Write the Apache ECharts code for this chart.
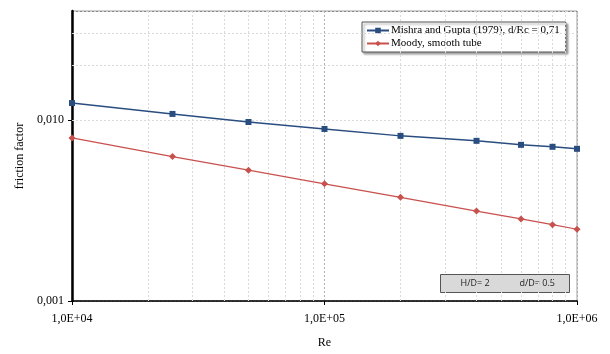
<!DOCTYPE html>
<html><head><meta charset="utf-8">
<script src="https://cdn.jsdelivr.net/npm/echarts@6/dist/echarts.min.js"></script>
<style>html,body{margin:0;padding:0;background:#fff}#c{width:610px;height:354px}</style>
</head><body><div id="c"></div>
<script>
const reynolds = [10000, 25000, 50000, 100000, 200000, 400000, 600000, 800000, 1000000];
const mishraGupta = [0.0124, 0.0108, 0.00975, 0.00892, 0.00817, 0.00767, 0.00729, 0.00711, 0.00693];
const moodySmooth = [0.00796, 0.00628, 0.00528, 0.00444, 0.00374, 0.00314, 0.00284, 0.00264, 0.00249];
const seriesNames = ['Mishra and Gupta (1979), d/Rc = 0,71', 'Moody, smooth tube'];
const xMinorGrid = [20000,30000,40000,50000,60000,70000,80000,90000,200000,300000,400000,500000,600000,700000,800000,900000];
const yMinorGrid = [0.002,0.003,0.004,0.005,0.006,0.007,0.008,0.009,0.02,0.03];
const annotation = ['H/D= 2', 'd/D= 0.5'];

const serif = '"Liberation Serif", "DejaVu Serif", serif';
const chart = echarts.init(document.getElementById('c'));
const gridLine = {type: [2, 2], color: '#dadada', width: 1};
const fmtY = v => {
  const l = Math.log10(v);
  if (Math.abs(l - Math.round(l)) > 1e-6) return '';
  return v.toFixed(3).replace('.', ',');
};
const fmtX = v => {
  const l = Math.log10(v);
  if (Math.abs(l - Math.round(l)) > 1e-6) return '';
  return '1,0E+' + String(Math.round(l)).padStart(2, '0');
};
chart.setOption({
  animation: false,
  grid: {left: 72, right: 33, top: 11, bottom: 51, show: true, borderColor: '#a0a0a0', borderWidth: 1},
  legend: {
    data: seriesNames.map(n => ({name: n})),
    orient: 'vertical', left: 362, top: 22, width: 206,
    padding: [3, 6, 3, 4], itemGap: 2, itemWidth: 22, itemHeight: 7,
    backgroundColor: '#fff', borderColor: '#555', borderWidth: 1,
    shadowColor: 'rgba(0,0,0,0.35)', shadowBlur: 2, shadowOffsetX: 2, shadowOffsetY: 2,
    textStyle: {fontFamily: serif, fontSize: 11, color: '#000', padding: [0, 0, 0, -3]}
  },
  xAxis: {
    type: 'log', logBase: 10, min: 10000, max: 1000000,
    name: 'Re', nameLocation: 'middle', nameGap: 36,
    nameTextStyle: {fontFamily: serif, fontSize: 12, color: '#000'},
    axisLine: {lineStyle: {color: '#000', width: 1.5}},
    axisTick: {show: true, length: 4, lineStyle: {color: '#000'}},
    axisLabel: {formatter: fmtX, fontFamily: serif, fontSize: 12, color: '#000', margin: 12},
    splitLine: {show: true, lineStyle: {type: [2, 2], color: '#b0b0b0', width: 1}},
    minorTick: {show: false}
  },
  yAxis: {
    type: 'log', logBase: 10, min: 0.001, max: 0.04,
    name: 'friction factor', nameLocation: 'middle', nameGap: 46,
    nameTextStyle: {fontFamily: serif, fontSize: 12, color: '#000'},
    axisLine: {show: true, lineStyle: {color: '#000', width: 2.5}},
    axisTick: {show: true, length: 4, lineStyle: {color: '#000'}},
    axisLabel: {formatter: fmtY, fontFamily: serif, fontSize: 12, color: '#000', margin: 8, showMaxLabel: false},
    splitLine: {show: true, lineStyle: {type: [2, 2], color: '#8a8a8a', width: 1}}
  },
  graphic: [{
    type: 'group', left: 440, top: 274,
    children: [
      {type: 'rect', shape: {x: 0, y: 0, width: 129, height: 18}, style: {fill: '#d9d9d9', stroke: '#555', lineWidth: 1}},
      {type: 'text', style: {x: 20, y: 9, text: annotation[0], fontFamily: '"Open Sans", "Noto Sans", sans-serif', fontSize: 9, fill: '#222', verticalAlign: 'middle'}},
      {type: 'text', style: {x: 79, y: 9, text: annotation[1], fontFamily: '"Open Sans", "Noto Sans", sans-serif', fontSize: 9, fill: '#222', verticalAlign: 'middle'}}
    ]
  }],
  series: [
    {
      name: '__grid', type: 'line', data: [], silent: true,
      markLine: {
        silent: true, symbol: 'none', label: {show: false}, animation: false,
        lineStyle: gridLine, emphasis: {disabled: true},
        data: xMinorGrid.map(v => ({xAxis: v})).concat(yMinorGrid.map(v => ({yAxis: v})))
      }
    },
    {
      name: seriesNames[0], type: 'line', z: 5,
      data: reynolds.map((r, i) => [r, mishraGupta[i]]),
      symbol: 'rect', symbolSize: 6,
      lineStyle: {color: '#2a4d80', width: 1.5},
      itemStyle: {color: '#2a4d80'}
    },
    {
      name: seriesNames[1], type: 'line', z: 5,
      data: reynolds.map((r, i) => [r, moodySmooth[i]]),
      symbol: 'diamond', symbolSize: 7,
      lineStyle: {color: '#c8504d', width: 1.2},
      itemStyle: {color: '#c8504d'}
    }
  ]
});
</script></body></html>
